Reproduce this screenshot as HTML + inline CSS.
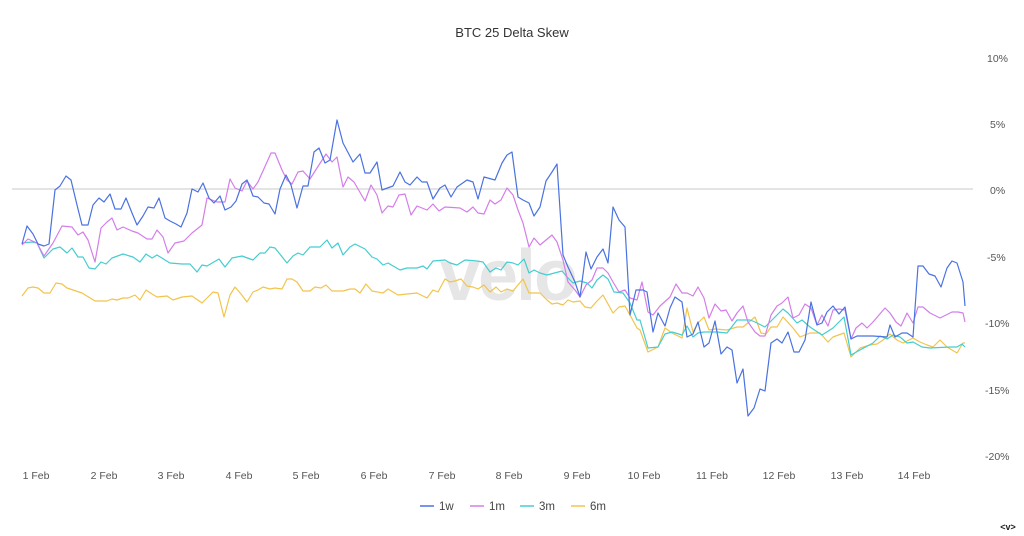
<!DOCTYPE html>
<html><head><meta charset="utf-8"><style>
html,body{margin:0;padding:0;background:#fff;}
svg{display:block;font-family:"Liberation Sans",sans-serif;}
</style></head><body>
<svg width="1024" height="536" viewBox="0 0 1024 536">
<text x="512" y="37" text-anchor="middle" font-size="13" fill="#333">BTC 25 Delta Skew</text>
<text x="508" y="300" text-anchor="middle" font-size="72" font-weight="bold" fill="#e6e6e6" letter-spacing="-2">velo</text>
<line x1="12" y1="189" x2="973" y2="189" stroke="#dcdcdc" stroke-width="1.5"/>
<g font-size="10.5" fill="#555" text-anchor="start">
<text x="987" y="62">10%</text><text x="990" y="128">5%</text><text x="990" y="194">0%</text>
<text x="987" y="261">-5%</text><text x="985" y="327">-10%</text><text x="985" y="394">-15%</text><text x="985" y="460">-20%</text>
</g>
<g font-size="10.5" fill="#555" text-anchor="middle">
<text x="36" y="479">1 Feb</text><text x="104" y="479">2 Feb</text><text x="171" y="479">3 Feb</text><text x="239" y="479">4 Feb</text><text x="306" y="479">5 Feb</text><text x="374" y="479">6 Feb</text><text x="442" y="479">7 Feb</text><text x="509" y="479">8 Feb</text><text x="577" y="479">9 Feb</text><text x="644" y="479">10 Feb</text><text x="712" y="479">11 Feb</text><text x="779" y="479">12 Feb</text><text x="847" y="479">13 Feb</text><text x="914" y="479">14 Feb</text>
</g>
<g fill="none" stroke-width="1.2" stroke-linejoin="round">
<polyline stroke="#f2c44c" points="22,296 28,288 33,287 38,288 44,293 50,293 56,283 62,284 67,288 82,293 95,301 107,301 112,299 117,300 123,298 128,298 135,295 140,300 146,290 152,294 157,297 167,296 173,300 182,297 192,296 202,303 213,292 218,293 224,317 230,295 235,287 241,294 247,302 253,292 258,290 263,287 270,289 275,288 282,289 287,279 292,279 297,282 303,291 310,291 315,287 321,288 326,285 332,291 343,291 350,289 355,289 360,293 366,284 372,291 383,293 388,289 398,295 407,294 417,293 427,298 433,290 438,292 445,279 450,282 455,281 461,279 467,286 473,287 478,289 484,285 490,292 496,287 501,292 507,289 513,291 518,285 523,279 529,293 535,293 540,293 547,300 552,304 557,303 563,305 568,300 573,302 580,301 585,307 591,308 597,301 603,295 608,304 613,313 619,307 625,306 630,315 637,328 640,330 648,352 658,347 665,328 672,333 682,338 687,308 693,332 698,323 704,317 709,330 715,329 727,330 737,327 743,327 755,317 761,333 766,334 771,327 777,327 783,317 793,328 800,337 810,333 820,333 828,342 833,337 844,333 851,357 860,348 870,345 877,344 883,340 890,334 897,340 903,343 913,338 920,342 927,345 933,347 940,340 947,347 957,353 963,343 965,343"/>
<polyline stroke="#45cdd0" points="22,243 32,242 37,243 44,258 53,249 60,247 67,253 72,248 78,257 83,257 89,268 95,269 101,262 106,264 112,258 123,254 133,257 140,262 146,254 152,258 157,255 170,263 182,264 190,264 197,272 202,265 207,266 219,259 225,267 232,258 242,256 253,260 260,253 265,253 270,247 275,248 287,263 293,256 298,253 303,255 310,247 320,247 327,240 332,248 338,243 343,255 350,247 355,244 365,249 372,257 377,259 383,265 388,263 400,270 407,268 417,268 423,266 427,269 433,261 445,260 450,263 457,265 465,260 477,261 483,262 490,272 496,268 501,270 507,262 513,263 518,265 524,259 529,273 534,270 540,273 547,275 562,271 568,278 573,283 580,281 587,283 592,288 597,280 603,275 608,279 614,292 623,293 630,303 637,320 640,320 648,348 658,347 665,334 672,332 682,335 687,326 693,337 698,333 704,332 717,332 727,333 737,320 750,320 755,322 765,327 777,315 783,309 788,313 797,323 802,320 810,327 822,335 833,328 844,317 851,355 860,350 873,343 880,336 887,339 893,335 900,337 907,343 913,342 922,347 930,348 950,347 957,347 962,344 965,347"/>
<polyline stroke="#d47ee9" points="22,245 28,239 37,243 44,256 53,243 62,226 72,227 78,235 83,232 88,240 95,262 101,228 107,222 112,218 117,230 123,227 132,231 138,233 147,239 152,239 157,230 163,237 168,253 175,243 184,241 192,233 202,225 207,198 217,202 225,202 230,179 235,188 242,191 247,181 253,189 258,182 267,162 271,153 275,153 282,170 287,180 292,184 298,172 303,171 310,179 317,168 326,154 332,162 337,157 343,187 348,177 354,182 365,201 371,185 377,195 382,213 388,206 393,207 399,195 405,194 411,215 417,206 427,210 433,204 439,211 445,207 460,208 467,212 473,207 478,213 484,214 490,200 495,204 501,200 507,188 513,195 518,210 523,223 529,247 534,238 540,245 546,240 552,235 557,242 563,260 568,282 575,290 580,297 586,285 592,280 597,268 603,268 608,273 613,282 619,292 625,290 630,298 637,300 642,282 648,312 653,315 660,306 670,297 676,284 682,293 687,293 693,296 698,287 704,298 709,318 715,304 721,311 726,310 732,321 737,313 743,306 748,322 755,332 760,336 765,336 771,315 777,306 782,303 788,297 793,318 799,315 805,304 811,308 817,325 822,315 828,326 833,310 839,309 845,310 851,339 856,328 862,323 867,328 873,322 885,308 890,313 896,322 901,326 907,313 913,323 918,307 923,307 930,313 940,318 952,312 958,312 963,313 965,322"/>
<polyline stroke="#4a72e0" points="22,244 27,226 33,234 38,244 44,246 49,244 55,190 60,186 66,176 71,180 77,205 82,225 88,225 93,205 99,198 104,202 110,194 115,209 121,209 126,198 132,213 137,225 143,216 148,207 154,208 159,198 165,218 170,221 176,224 181,227 187,213 192,189 198,192 203,183 209,198 214,203 220,196 225,210 231,207 236,201 242,184 247,180 253,196 258,197 264,203 269,204 275,214 280,189 286,175 291,185 297,208 303,186 308,186 314,152 319,148 325,163 330,160 337,120 343,143 353,162 360,154 365,173 370,173 377,162 382,190 393,186 400,172 405,182 410,185 417,177 422,182 427,182 433,199 440,188 445,185 451,197 457,187 467,180 473,182 478,199 484,177 495,180 502,163 507,155 512,152 518,197 523,200 529,203 534,216 540,207 546,181 552,172 557,164 563,255 568,267 575,282 580,297 586,252 591,269 597,257 603,249 608,263 613,207 619,220 625,227 630,315 636,290 643,290 647,292 653,332 658,313 665,326 670,308 675,297 682,302 687,337 693,334 698,322 704,347 709,343 715,321 721,354 727,347 732,350 737,383 743,369 748,416 754,408 760,389 765,391 771,343 777,339 782,343 788,332 794,352 799,352 805,340 811,302 817,325 822,323 827,312 833,306 839,314 845,307 851,339 857,336 873,336 887,337 890,325 895,337 902,333 907,333 913,337 918,266 923,266 929,274 935,276 941,287 947,268 952,261 957,263 963,282 965,306"/>
</g>
<g font-size="11.5" fill="#444">
<line x1="420" y1="506" x2="434" y2="506" stroke="#4a72e0" stroke-width="1.5"/><text x="439" y="510">1w</text>
<line x1="470" y1="506" x2="484" y2="506" stroke="#d47ee9" stroke-width="1.5"/><text x="489" y="510">1m</text>
<line x1="520" y1="506" x2="534" y2="506" stroke="#45cdd0" stroke-width="1.5"/><text x="539" y="510">3m</text>
<line x1="571" y1="506" x2="585" y2="506" stroke="#f2c44c" stroke-width="1.5"/><text x="590" y="510">6m</text>
</g>
<text x="1008" y="530" text-anchor="middle" font-size="9" font-weight="bold" fill="#222">&lt;v&gt;</text>
</svg>
</body></html>
